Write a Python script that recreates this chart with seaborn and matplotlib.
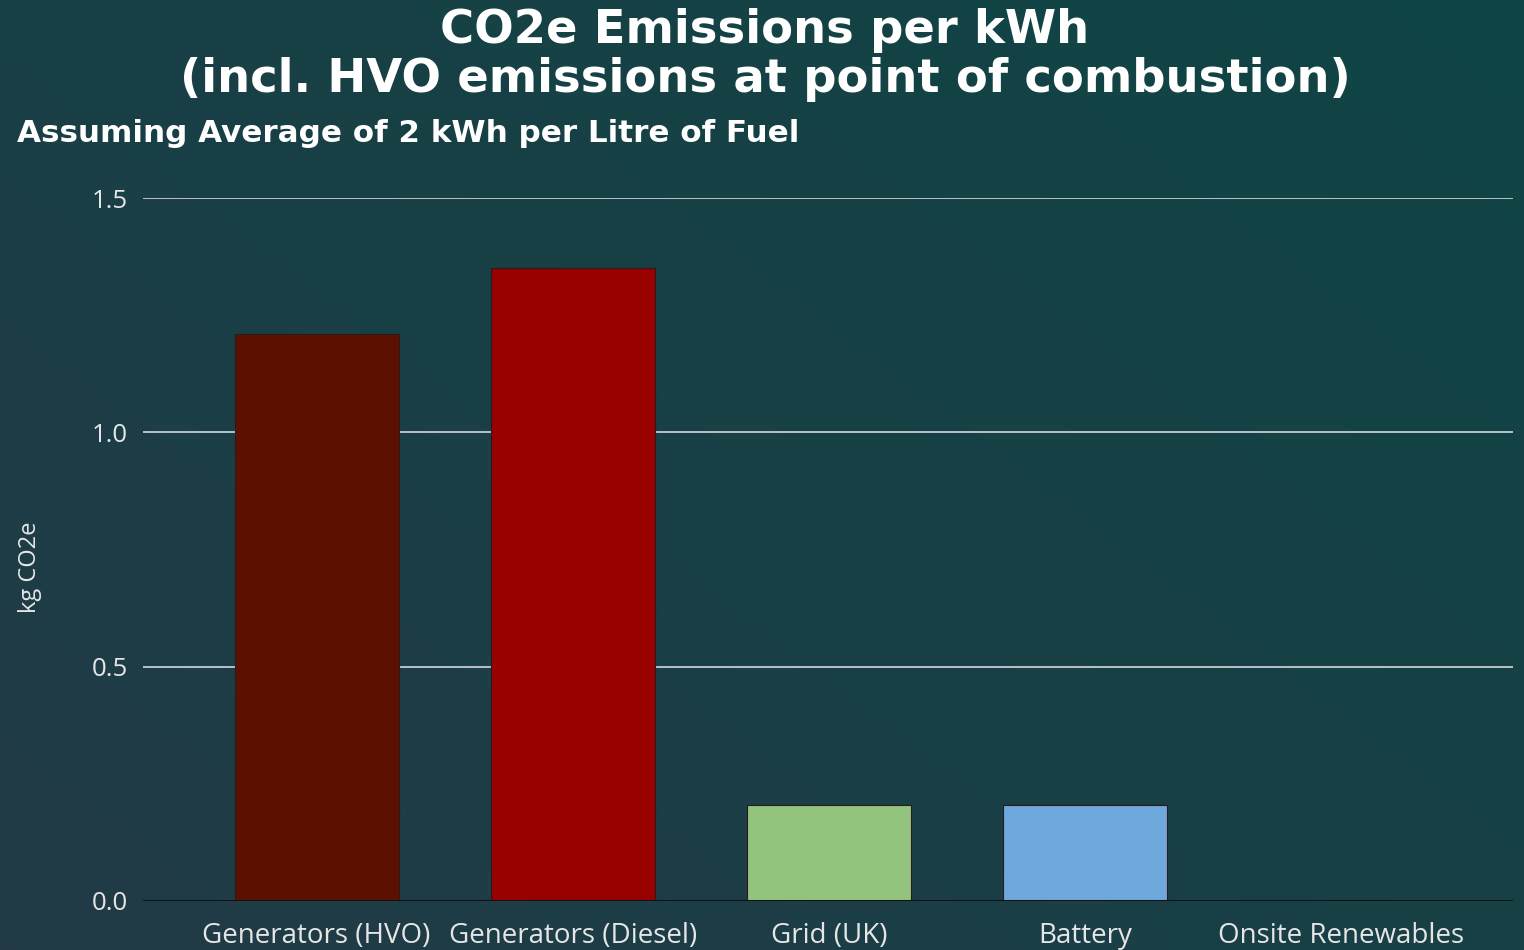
import numpy as np
import pandas as pd
import matplotlib
matplotlib.use("Agg")
import matplotlib.pyplot as plt
from matplotlib.colors import LinearSegmentedColormap
import seaborn as sns

# Emission factors per kWh of delivered energy
categories = ["Generators (HVO)", "Generators (Diesel)", "Grid (UK)", "Battery", "Onsite Renewables"]
kg_co2e = [1.21, 1.35, 0.205, 0.205, 0.0]
bar_colors = ["#5c1100", "#990000", "#93c47d", "#6fa8dc", "#6fa8dc"]
y_ticks = [0.0, 0.5, 1.0, 1.5]

df = pd.DataFrame({"source": categories, "kg": kg_co2e})

sns.set_theme(style="white")
plt.rcParams["font.family"] = ["Open Sans", "DejaVu Sans"]

fig = plt.figure(figsize=(15.24, 9.5), dpi=100)

# Dark teal gradient backdrop
bg = fig.add_axes([0, 0, 1, 1], zorder=-10)
gx, gy = np.meshgrid(np.linspace(0, 1, 300), np.linspace(0, 1, 200))
grad = 0.55 * gx + 0.45 * (1 - gy)
cmap = LinearSegmentedColormap.from_list("bgteal", ["#223b47", "#0f4545"])
bg.imshow(grad, cmap=cmap, aspect="auto", extent=[0, 1, 0, 1], origin="upper")
bg.set_axis_off()

ax = fig.add_axes([143 / 1524, 1 - 901 / 950, (1513 - 143) / 1524, (901 - 198) / 950])
ax.set_facecolor("none")

sns.barplot(data=df, x="source", y="kg", hue="source", palette=bar_colors,
            legend=False, width=0.64, saturation=1, ax=ax,
            edgecolor="#2a1a1a", linewidth=0.8, zorder=3)

ax.set_ylim(0, 1.5)
ax.set_xlim(-0.678, 4.67)
ax.set_yticks(y_ticks)
ax.set_yticklabels([f"{t:.1f}" for t in y_ticks])
ax.yaxis.grid(True, color="#b8c2c4", linewidth=1.4, zorder=0)
ax.set_axisbelow(True)
ax.axhline(0, color="#111111", linewidth=2.2, zorder=4)
for s in ax.spines.values():
    s.set_visible(False)

ax.tick_params(axis="y", colors="#e6e6e6", labelsize=18.5, length=0, pad=11)
ax.tick_params(axis="x", colors="#e6e6e6", labelsize=20, length=0, pad=15)
ax.set_xlabel("")
ax.set_ylabel("kg CO2e", color="#e6e6e6", fontsize=17)
ax.yaxis.set_label_coords(-(143 - 42) / 1370, 0.475)

fig.text(0.502, 0.992, "CO2e Emissions per kWh\n(incl. HVO emissions at point of combustion)",
         ha="center", va="top", color="white", fontsize=33.5, fontweight="bold",
         family=["DejaVu Sans"], linespacing=1.12)
fig.text(17 / 1524, 1 - 133 / 950, "Assuming Average of 2 kWh per Litre of Fuel",
         ha="left", va="center", color="white", fontsize=22.3, fontweight="bold",
         family=["DejaVu Sans"])

fig.savefig("out.png", dpi=100)
